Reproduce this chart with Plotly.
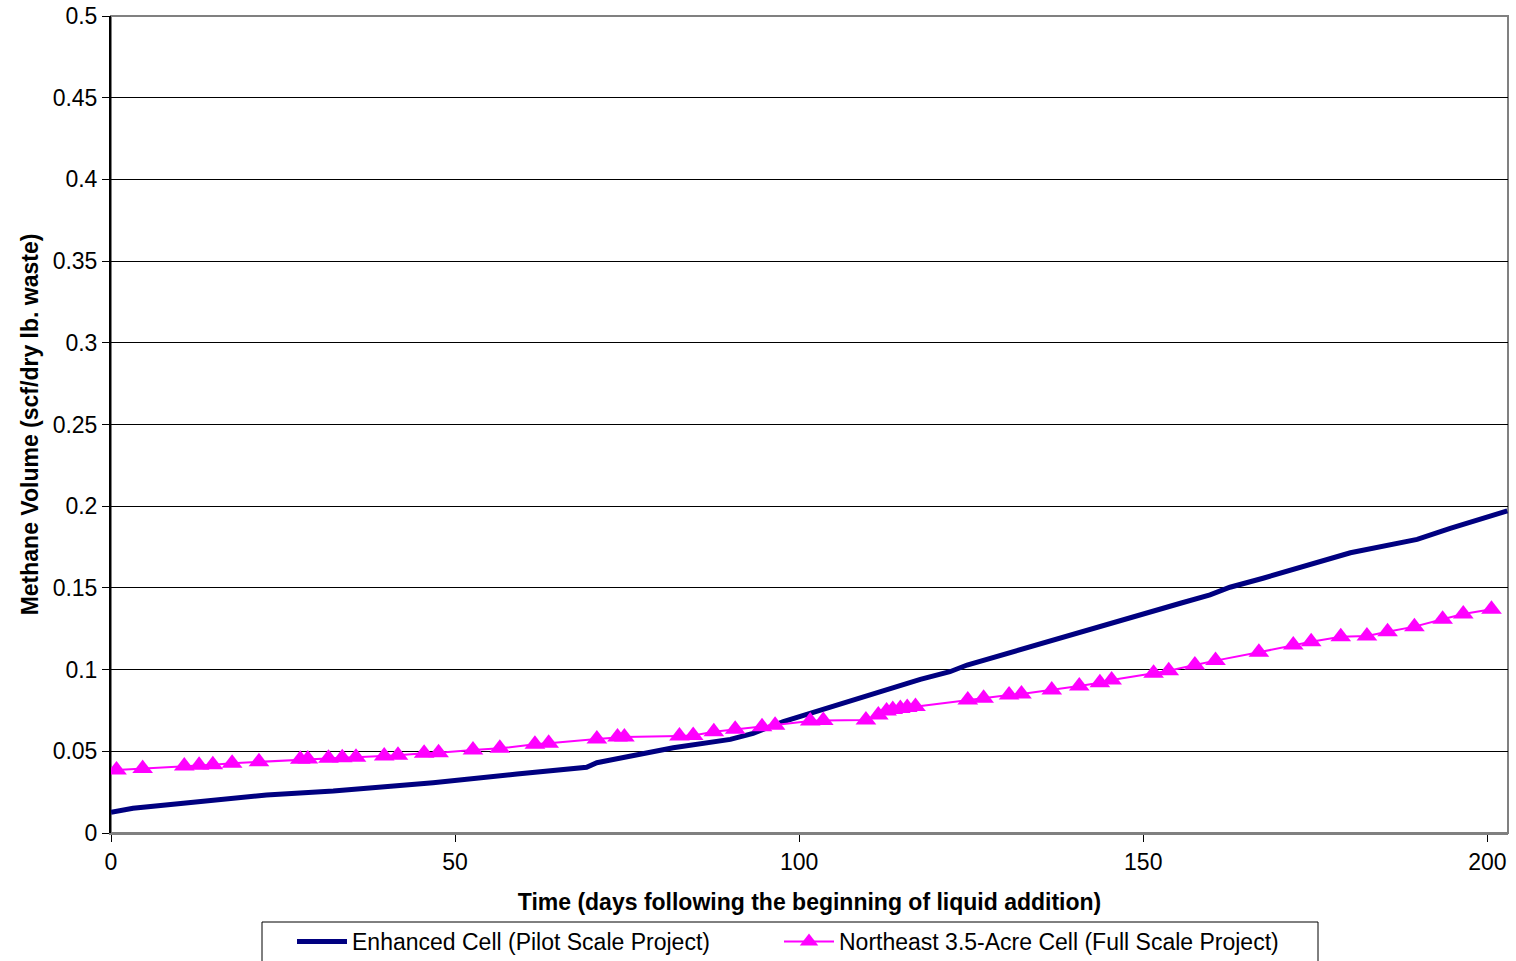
import plotly.graph_objects as go

# Enhanced Cell (Pilot Scale Project)
enh_days = [0, 3.2, 10.5, 22.6, 32.3, 46.8, 59.0, 69.1, 70.6, 81.7, 90.0, 93.3, 97.7,
            106.4, 111.8, 117.6, 121.9, 124.4, 155.4, 159.7, 162.6, 167.4, 180.1,
            189.8, 194.6, 202.9]
enh_vals = [0.0127, 0.0151, 0.0182, 0.0233, 0.0257, 0.0308, 0.0361, 0.0402, 0.043,
            0.0522, 0.0573, 0.061, 0.0681, 0.0794, 0.0865, 0.094, 0.0987, 0.1028,
            0.1406, 0.1457, 0.1504, 0.1559, 0.1715, 0.1797, 0.1865, 0.1972]

# Northeast 3.5-Acre Cell (Full Scale Project)
ne_days = [0.8, 4.6, 10.65, 12.8, 14.8, 17.6, 21.5, 27.5, 28.6, 31.6, 33.6, 35.6,
           39.7, 41.7, 45.5, 47.6, 52.6, 56.5, 61.6, 63.6, 70.6, 73.6, 74.6, 82.6,
           84.6, 87.6, 90.7, 94.6, 96.5, 101.6, 103.5, 109.7, 111.5, 112.7, 113.6,
           114.7, 115.7, 116.9, 124.5, 126.8, 130.5, 132.3, 136.7, 140.7, 143.7,
           145.4, 151.5, 153.7, 157.5, 160.5, 166.8, 171.8, 174.4, 178.7, 182.5,
           185.5, 189.4, 193.5, 196.5, 200.6]
ne_vals = [0.0386, 0.0394, 0.041, 0.0414, 0.0418, 0.0427, 0.0436, 0.0451, 0.0453,
           0.0457, 0.0461, 0.0463, 0.0471, 0.0476, 0.0488, 0.0491, 0.0508, 0.0518,
           0.0543, 0.0549, 0.0575, 0.0588, 0.0588, 0.0594, 0.0597, 0.062, 0.0635,
           0.065, 0.066, 0.0685, 0.0689, 0.0692, 0.0722, 0.0747, 0.0756, 0.0762,
           0.0768, 0.0774, 0.0814, 0.0824, 0.0845, 0.0851, 0.0875, 0.090, 0.092,
           0.0936, 0.0977, 0.0993, 0.1028, 0.1055, 0.1106, 0.1151, 0.1171, 0.1201,
           0.1206, 0.1232, 0.1263, 0.1308, 0.134, 0.1369]

x_ticks = [0, 50, 100, 150, 200]
y_ticks = [0, 0.05, 0.1, 0.15, 0.2, 0.25, 0.3, 0.35, 0.4, 0.45, 0.5]
y_labels = ["0", "0.05", "0.1", "0.15", "0.2", "0.25", "0.3", "0.35", "0.4", "0.45", "0.5"]

FONT = "Liberation Sans, Arial, sans-serif"

fig = go.Figure()
fig.add_trace(go.Scatter(
    x=enh_days, y=enh_vals, mode="lines",
    name="Enhanced Cell (Pilot Scale Project)",
    line=dict(color="#000080", width=5),
    legend="legend",
))
fig.add_trace(go.Scatter(
    x=ne_days, y=ne_vals, mode="lines+markers",
    name="Northeast 3.5-Acre Cell (Full Scale Project)",
    line=dict(color="#FF00FF", width=2),
    marker=dict(symbol="triangle-up", size=18, color="#FF00FF"),
    legend="legend2",
))

leg_common = dict(
    orientation="h", xref="container", yref="container",
    xanchor="left", y=(961 - 920) / 961, yanchor="top",
    borderwidth=0, font=dict(size=23), itemwidth=50,
    bgcolor="rgba(0,0,0,0)",
)

fig.update_layout(
    width=1516, height=961,
    margin=dict(l=111, r=8, t=16, b=128),
    paper_bgcolor="white", plot_bgcolor="white",
    font=dict(family=FONT, size=23, color="black"),
    showlegend=True,
    legend=dict(x=292 / 1516, **leg_common),
    legend2=dict(x=779 / 1516, **leg_common),
    xaxis=dict(
        range=[0, 203], tickvals=x_ticks, ticks="outside", ticklen=7,
        tickcolor="black", showgrid=False, zeroline=False, automargin=False,
        showline=True, linecolor="#808080", linewidth=2,
        title=dict(text="<b>Time (days following the beginning of liquid addition)</b>",
                   font=dict(size=23), standoff=20),
        tickfont=dict(size=23),
    ),
    yaxis=dict(
        range=[0, 0.5], tickvals=y_ticks, ticktext=y_labels, ticks="outside",
        ticklen=7, tickcolor="black", showgrid=True, gridcolor="black",
        gridwidth=1, zeroline=False, showline=True, linecolor="black",
        linewidth=2, automargin=False,
        title=dict(text="<b>Methane Volume (scf/dry lb. waste)</b>",
                   font=dict(size=23), standoff=8),
        tickfont=dict(size=23),
    ),
)

# plot-area border (gray, Excel-style)
fig.add_shape(type="rect", xref="paper", yref="paper", x0=0, x1=1, y0=0, y1=1,
              line=dict(color="#808080", width=2), layer="below")

# legend frame
fig.add_shape(type="rect", xref="paper", yref="paper",
              x0=(262 - 111) / 1397, x1=(1318 - 111) / 1397,
              y0=(833 - 975) / 817, y1=(833 - 922) / 817,
              line=dict(color="black", width=1), fillcolor="rgba(0,0,0,0)",
              layer="below")

fig.write_html("out.html")
